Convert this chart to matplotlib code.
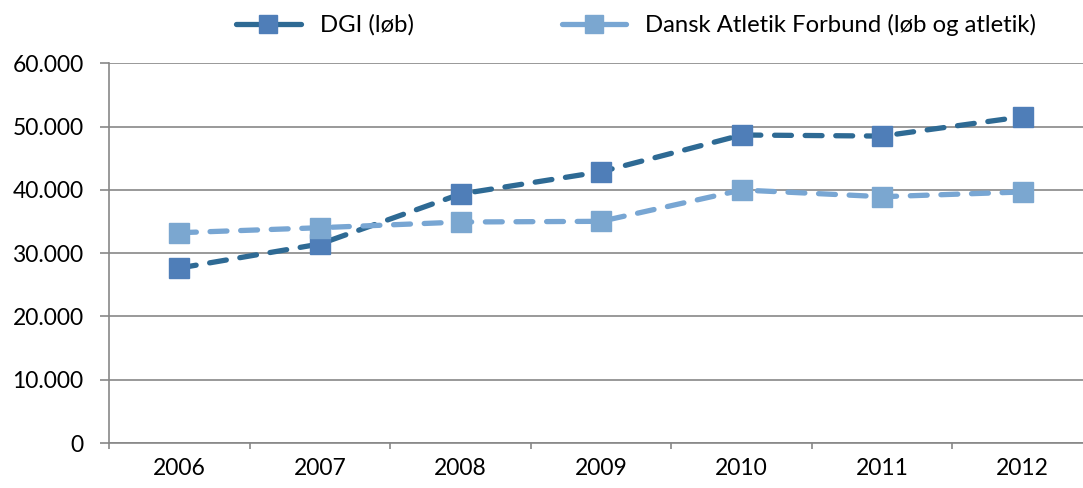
import matplotlib
matplotlib.use("Agg")
import matplotlib.pyplot as plt
from matplotlib.ticker import FuncFormatter
from matplotlib.lines import Line2D

years = ["2006", "2007", "2008", "2009", "2010", "2011", "2012"]
dgi = [27650, 31450, 39350, 42870, 48670, 48500, 51560]
daf = [33230, 34020, 34920, 35030, 39980, 38920, 39670]
series_names = ["DGI (løb)", "Dansk Atletik Forbund (løb og atletik)"]

plt.rcParams['font.family'] = ['Lato', 'DejaVu Sans']

W, H = 1083, 488
fig = plt.figure(figsize=(W / 100, H / 100), dpi=100)
left = 109.2 / W
right = 1093.0 / W
bottom = 1 - 443.0 / H
top = 1 - 63.3 / H
ax = fig.add_axes([left, bottom, right - left, top - bottom])

x = list(range(len(years)))
dgi_line = "#2E6A94"
dgi_marker = "#4F7EB8"
daf_line = "#78A6D3"
daf_marker = "#7BA7D0"

l1, = ax.plot(x, dgi, color=dgi_line, lw=3.8, dashes=(3.2, 2.6),
              dash_capstyle='round', marker='s', markersize=14.5,
              markerfacecolor=dgi_marker, markeredgecolor=dgi_marker,
              label=series_names[0], zorder=3)
l2, = ax.plot(x, daf, color=daf_line, lw=3.8, dashes=(3.2, 2.6),
              dash_capstyle='round', marker='s', markersize=14.5,
              markerfacecolor=daf_marker, markeredgecolor=daf_marker,
              label=series_names[1], zorder=4)

ax.set_xlim(-0.5, len(years) - 0.5)
ax.set_ylim(0, 60000)
ax.set_yticks(range(0, 60001, 10000))
ax.yaxis.set_major_formatter(FuncFormatter(lambda v, p: "0" if v == 0 else f"{int(v):,}".replace(",", ".")))
ax.set_xticks(x)
ax.set_xticklabels(years)
ax.set_xticks([i - 0.5 for i in range(len(years) + 1)], minor=True)

gray = "#878787"
ax.grid(axis='y', color=gray, lw=1.2)
ax.set_axisbelow(True)
for s in ['top', 'right']:
    ax.spines[s].set_visible(False)
for s in ['left', 'bottom']:
    ax.spines[s].set_color(gray)
    ax.spines[s].set_linewidth(1.2)

ax.tick_params(axis='y', length=6.5, width=1.2, color=gray, pad=12, labelsize=16.5, labelcolor='black')
ax.tick_params(axis='x', which='major', length=0, pad=11, labelsize=16.5, labelcolor='black')
ax.tick_params(axis='x', which='minor', length=4.5, width=1.2, color=gray)

h1 = Line2D([], [], color=dgi_line, lw=3.8, solid_capstyle='round', marker='s', markersize=12.5,
            markerfacecolor=dgi_marker, markeredgecolor=dgi_marker)
h2 = Line2D([], [], color=daf_line, lw=3.8, solid_capstyle='round', marker='s', markersize=12.5,
            markerfacecolor=daf_marker, markeredgecolor=daf_marker)
leg = fig.legend(handles=[h1, h2], labels=series_names, loc='center left',
                 bbox_to_anchor=(236 / W, 1 - 25 / H),
                 ncol=2, frameon=False, fontsize=17.2, handlelength=2.7, handletextpad=0.8,
                 columnspacing=6.2, borderaxespad=0, borderpad=0)

fig.savefig("out.png", dpi=100)
